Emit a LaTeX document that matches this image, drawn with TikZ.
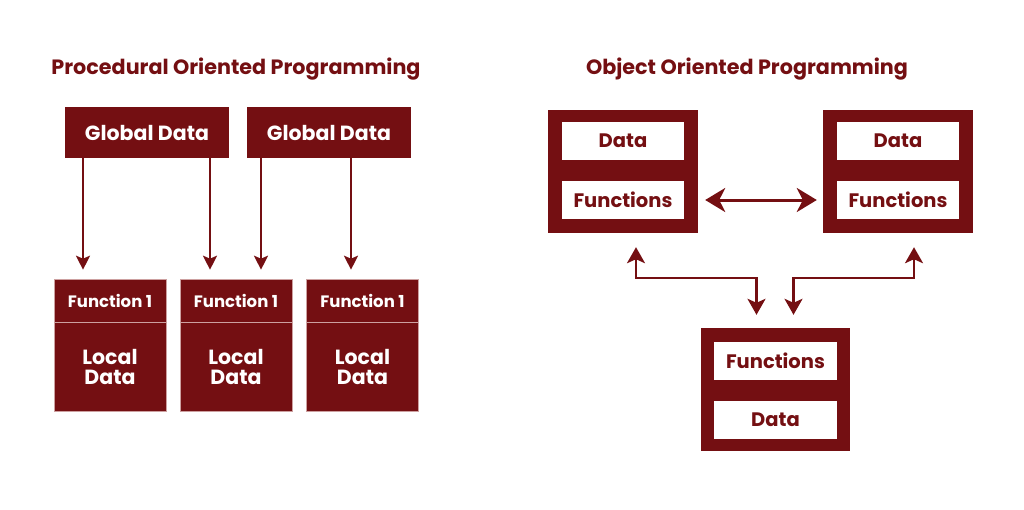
\documentclass[tikz,border=0pt]{standalone}
\usepackage{fontspec}
\setmainfont{Poppins}
\usetikzlibrary{arrows.meta}
\definecolor{maroon}{RGB}{116,15,18}
\definecolor{edgepink}{RGB}{205,160,160}
\tikzset{
  redbox/.style={fill=maroon, draw=none, inner sep=0pt, text=white, font=\bfseries},
  fbox/.style={fill=maroon, draw=edgepink, line width=0.6pt, inner sep=0pt, text=white, font=\bfseries},
  whitebox/.style={fill=white, draw=none, inner sep=0pt, text=maroon, font=\bfseries\fontsize{19.5}{22}\selectfont},
  title/.style={text=maroon, font=\bfseries\fontsize{20.7}{24}\selectfont, inner sep=0pt},
  arrS/.style={draw=maroon, line width=2pt, -{Stealth[length=14pt,width=14pt,inset=3pt]}},
  arrD/.style={draw=maroon, line width=3pt, {Stealth[length=20pt,width=24pt,inset=6pt]}-{Stealth[length=20pt,width=24pt,inset=6pt]}},
  arrC/.style={draw=maroon, line width=2.5pt, {Stealth[length=16pt,width=18pt,inset=4pt]}-{Stealth[length=16pt,width=18pt,inset=4pt]}}
}
\begin{document}
\begin{tikzpicture}[x=1pt,y=-1pt]
\useasboundingbox (0,0) rectangle (1024,509);
% titles
\node[title] (t1) at (236,69) {Procedural Oriented Programming};
\node[title] (t2) at (747,69) {Object Oriented Programming};
% global data
\node[redbox, minimum width=164pt, minimum height=51pt, font=\bfseries\fontsize{20.5}{23}\selectfont] (g1) at (147,132.5) {Global Data};
\node[redbox, minimum width=164pt, minimum height=51pt, font=\bfseries\fontsize{20.5}{23}\selectfont] (g2) at (329,132.5) {Global Data};
% function boxes
\foreach \n/\x in {1/110, 2/236, 3/362.5}{
  \node[fbox, minimum width=112pt, minimum height=44pt, font=\bfseries\fontsize{16.5}{18}\selectfont] (f\n t) at (\x,301) {Function 1};
  \node[fbox, minimum width=112pt, minimum height=89pt, align=center, font=\bfseries\fontsize{20.5}{20.5}\selectfont] (f\n b) at (\x,367) {Local\\Data};
}
% procedural arrows
\draw[arrS, shorten >=9pt] ([xshift=-64pt]g1.south) -- ([xshift=-64pt]g1.south |- f1t.north);
\draw[arrS, shorten >=9pt] ([xshift=63pt]g1.south) -- ([xshift=63pt]g1.south |- f2t.north);
\draw[arrS, shorten >=9pt] ([xshift=-68pt]g2.south) -- ([xshift=-68pt]g2.south |- f2t.north);
\draw[arrS, shorten >=9pt] ([xshift=22pt]g2.south) -- ([xshift=22pt]g2.south |- f3t.north);
% object boxes
\node[redbox, minimum width=150pt, minimum height=123pt] (TL) at (623,171.5) {};
\node[whitebox, minimum width=122pt, minimum height=38pt] (TLd) at (623,141) {Data};
\node[whitebox, minimum width=122pt, minimum height=38pt] (TLf) at (623,200) {Functions};
\node[redbox, minimum width=150pt, minimum height=123pt] (TR) at (898,171.5) {};
\node[whitebox, minimum width=122pt, minimum height=38pt] (TRd) at (898,141) {Data};
\node[whitebox, minimum width=122pt, minimum height=38pt] (TRf) at (898,200) {Functions};
\node[redbox, minimum width=149pt, minimum height=123pt] (B) at (775.5,389.5) {};
\node[whitebox, minimum width=123pt, minimum height=38pt] (Bf) at (775.5,361) {Functions};
\node[whitebox, minimum width=123pt, minimum height=38pt] (Bd) at (775.5,420) {Data};
\coordinate (mid) at (0,278);
% object arrows
\draw[arrD, shorten <=7pt, shorten >=6pt] (TLf.east -| TL.east) -- (TRf.west -| TR.west);
\draw[arrC] ([xshift=13pt,yshift=-14pt]TL.south) -- ([xshift=13pt]TL.south |- mid) -| ([xshift=-19pt,yshift=13pt]B.north);
\draw[arrC] ([xshift=16pt,yshift=-14pt]TR.south) -- ([xshift=16pt]TR.south |- mid) -| ([xshift=18pt,yshift=13pt]B.north);
\end{tikzpicture}
\end{document}
